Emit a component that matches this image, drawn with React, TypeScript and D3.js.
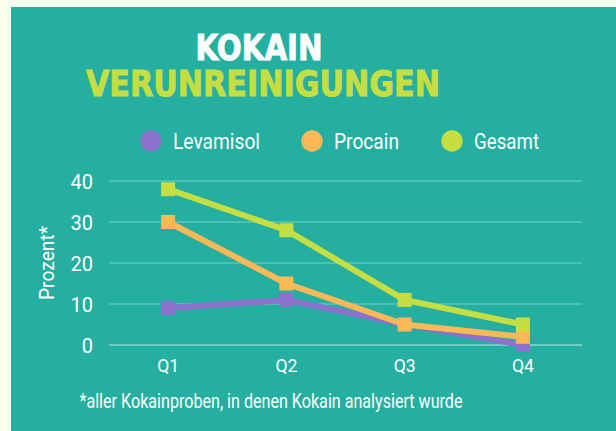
import * as d3 from "d3";

const quarters = ["Q1", "Q2", "Q3", "Q4"];
const levamisol = [9, 11, 5, 0];
const procain = [30, 15, 5, 2];
const gesamt = [38, 28, 11, 5];
const yTicks = [0, 10, 20, 30, 40];

const series = [
  { name: "Levamisol", values: levamisol, color: "#8b72cd" },
  { name: "Procain", values: procain, color: "#fdb957" },
  { name: "Gesamt", values: gesamt, color: "#c4de43" },
];

const W = 616;
const H = 431;
const font = "Roboto, sans-serif";
const titleFont = "'DejaVu Sans', 'Liberation Sans', sans-serif";

export default function App() {
  const x = d3.scalePoint<string>().domain(quarters).range([109, 582]).padding(0.5);
  const y = d3.scaleLinear().domain([0, 40]).range([345, 181]);

  const line = d3
    .line<number>()
    .x((_, i) => x(quarters[i]) as number)
    .y((d) => y(d));

  // legend: circle centre, label width (the source font is condensed)
  const legendX = [151, 312, 452];
  const legendW = [87, 65, 65];

  return (
    <svg width={W} height={H} style={{ position: "absolute", left: 0, top: 0 }}>
      <rect width={W} height={H} fill="#fffff0" />
      <rect x={11} y={7} width={W - 11} height={H - 7} fill="#24afa0" />

      {/* title */}
      <text x={259} y={60} textAnchor="middle" fill="#ffffff"
        style={{ fontFamily: titleFont, fontWeight: 700, fontSize: 36 }}
        stroke="#ffffff" strokeWidth={1} textLength={127} lengthAdjust="spacingAndGlyphs">
        KOKAIN
      </text>
      <text x={263} y={96} textAnchor="middle" fill="#c4de43"
        style={{ fontFamily: titleFont, fontWeight: 700, fontSize: 35 }}
        stroke="#c4de43" strokeWidth={1} textLength={354} lengthAdjust="spacingAndGlyphs">
        VERUNREINIGUNGEN
      </text>

      {/* legend */}
      {series.map((s, i) => (
        <g key={s.name}>
          <circle cx={legendX[i]} cy={141} r={10.7} fill={s.color} />
          <text x={legendX[i] + 22} y={149} fill="#ffffff"
            style={{ fontFamily: font, fontSize: 22 }}
            textLength={legendW[i]} lengthAdjust="spacingAndGlyphs">
            {s.name}
          </text>
        </g>
      ))}

      {/* grid + y axis */}
      {yTicks.map((t) => (
        <g key={t}>
          <line x1={109} x2={582} y1={y(t)} y2={y(t)}
            stroke="#ffffff" strokeOpacity={t === 0 ? 0.35 : 0.2} strokeWidth={2} />
          <text x={93} y={y(t) + 8} textAnchor="end" fill="#ffffff"
            style={{ fontFamily: font, fontSize: 20 }}>
            {t}
          </text>
        </g>
      ))}
      <text transform={`translate(54,263) rotate(-90)`} textAnchor="middle" fill="#ffffff"
        style={{ fontFamily: font, fontSize: 21 }} textLength={74} lengthAdjust="spacingAndGlyphs">
        Prozent*
      </text>

      {/* x axis labels */}
      {quarters.map((q) => (
        <text key={q} x={x(q)} y={372} textAnchor="middle" fill="#ffffff"
          style={{ fontFamily: font, fontSize: 19 }} textLength={22} lengthAdjust="spacingAndGlyphs">
          {q}
        </text>
      ))}

      {/* lines */}
      {series.map((s) => (
        <g key={s.name}>
          <path d={line(s.values) ?? ""} fill="none" stroke={s.color} strokeWidth={6} strokeLinejoin="round" />
          {s.values.map((v, i) => (
            <rect key={i} x={(x(quarters[i]) as number) - 7} y={y(v) - 7} width={14} height={14} fill={s.color} />
          ))}
        </g>
      ))}

      <text x={271} y={408} textAnchor="middle" fill="#ffffff"
        style={{ fontFamily: font, fontSize: 20 }} textLength={383} lengthAdjust="spacingAndGlyphs">
        *aller Kokainproben, in denen Kokain analysiert wurde
      </text>
    </svg>
  );
}
